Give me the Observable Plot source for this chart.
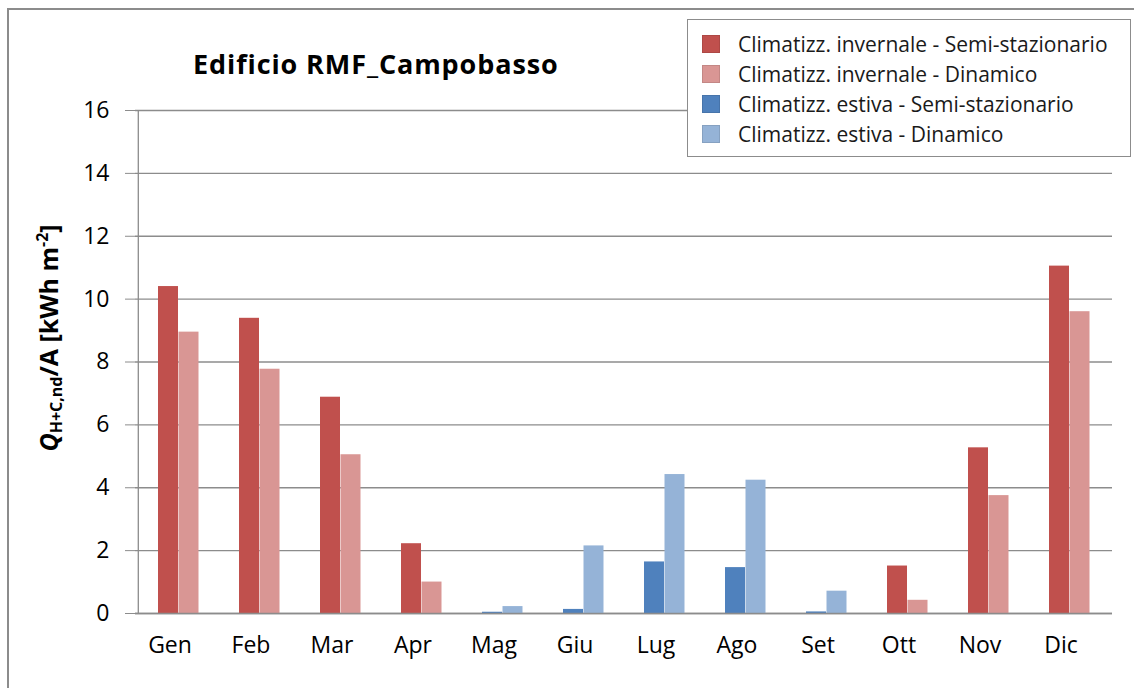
<!DOCTYPE html>
<html>
<head>
<meta charset="utf-8">
<script src="https://cdn.jsdelivr.net/npm/d3@7"></script>
<script src="https://cdn.jsdelivr.net/npm/@observablehq/plot@0.6"></script>
<style>
  html, body { margin: 0; padding: 0; background: #fff; }
  #wrap { position: relative; width: 1134px; height: 688px; overflow: hidden; font-family: "Open Sans", Lato, sans-serif; }
  #border { position: absolute; left: 7px; top: 8px; width: 1200px; height: 800px; border: 2px solid #8c8c8c; box-sizing: border-box; }
  #chart { position: absolute; left: 0; top: 0; }
  #title { position: absolute; left: 193px; top: 45px; font-size: 27px; font-weight: bold; color: #000; white-space: nowrap; letter-spacing: 0.9px; }
  #ylabel { position: absolute; left: 49px; top: 338px; transform: translate(-50%, -50%) rotate(-90deg); font-size: 25px; font-weight: bold; white-space: nowrap; color: #000; }
  #ylabel sub { font-size: 16px; vertical-align: -4px; font-style: normal; }
  #ylabel sup { font-size: 16px; vertical-align: 10px; }
  #legend { position: absolute; left: 687px; top: 19px; width: 444px; height: 138px; border: 1px solid #8c8c8c; box-sizing: border-box; background: #fff; }
  .li { position: absolute; left: 14px; height: 30px; display: flex; align-items: center; font-size: 21px; color: #1a1a1a; white-space: nowrap; }
  .sw { width: 18px; height: 18px; margin-right: 18px; box-sizing: border-box; }
</style>
</head>
<body>
<div id="wrap">
  <div id="border"></div>
  <div id="chart"></div>
  <div id="title"></div>
  <div id="ylabel"><i>Q</i><sub>H+C,nd</sub>/A [kWh m<sup>-2</sup>]</div>
  <div id="legend"></div>
</div>
<script>
const title = "Edificio RMF_Campobasso";
const months = ["Gen","Feb","Mar","Apr","Mag","Giu","Lug","Ago","Set","Ott","Nov","Dic"];
const winterSemi = [10.40, 9.39, 6.88, 2.22, null, null, null, null, null, 1.51, 5.27, 11.05];
const winterDin  = [8.95, 7.77, 5.05, 1.00, null, null, null, null, null, 0.42, 3.75, 9.60];
const summerSemi = [null, null, null, null, 0.04, 0.13, 1.64, 1.46, 0.05, null, null, null];
const summerDin  = [null, null, null, null, 0.22, 2.15, 4.42, 4.24, 0.71, null, null, null];
const seriesNames = [
  "Climatizz. invernale - Semi-stazionario",
  "Climatizz. invernale - Dinamico",
  "Climatizz. estiva - Semi-stazionario",
  "Climatizz. estiva - Dinamico"
];
const seriesColors = ["#C0504D", "#D99694", "#4F81BD", "#95B3D7"];
const yTicks = [0, 2, 4, 6, 8, 10, 12, 14, 16];

const allSeries = [winterSemi, winterDin, summerSemi, summerDin];
const rows = [];
allSeries.forEach((vals, si) => {
  vals.forEach((v, i) => {
    if (v != null) rows.push({month: months[i], value: v, series: seriesNames[si], pos: si % 2});
  });
});

document.getElementById("title").textContent = title;

const leg = document.getElementById("legend");
seriesNames.forEach((n, i) => {
  const d = document.createElement("div");
  d.className = "li";
  d.style.top = (9 + i * 30) + "px";
  d.innerHTML = `<div class="sw" style="background:${seriesColors[i]};border:1px solid ${d3.color(seriesColors[i]).darker(0.3)}"></div><span>${n}</span>`;
  leg.appendChild(d);
});

const barOpts = (pos) => ({
  x: "month", y: "value", fill: "series",
  insetLeft: pos === 0 ? 20 : 40.5,
  insetRight: pos === 0 ? 41 : 20.5
});

const chart = Plot.plot({
  width: 1134,
  height: 688,
  marginLeft: 135,
  marginRight: 22,
  marginTop: 110,
  marginBottom: 75,
  style: {fontFamily: "'Open Sans', Lato, sans-serif", background: "transparent", overflow: "visible"},
  x: {domain: months, padding: 0, label: null},
  y: {domain: [0, 16], label: null},
  color: {domain: seriesNames, range: seriesColors},
  marks: [
    Plot.gridY(yTicks, {stroke: "#8c8c8c", strokeOpacity: 1, strokeWidth: 1.3}),
    Plot.barY(rows.filter(d => d.pos === 0), barOpts(0)),
    Plot.barY(rows.filter(d => d.pos === 1), barOpts(1)),
    Plot.ruleY([0], {stroke: "#8c8c8c", strokeWidth: 1.3}),
    Plot.ruleX([months[0]], {x: d => d, y1: 0, y2: 16, dx: -40.7, stroke: "#8c8c8c", strokeWidth: 1.3}),
    Plot.axisY(yTicks, {tickSize: 10, tickPadding: 16, stroke: "#8c8c8c", fontSize: 23, fill: "#000", label: null}),
    Plot.axisX({tickSize: 0, tickPadding: 23, dx: -9, fontSize: 23, fill: "#000", label: null})
  ]
});
document.getElementById("chart").appendChild(chart);
</script>
</body>
</html>
